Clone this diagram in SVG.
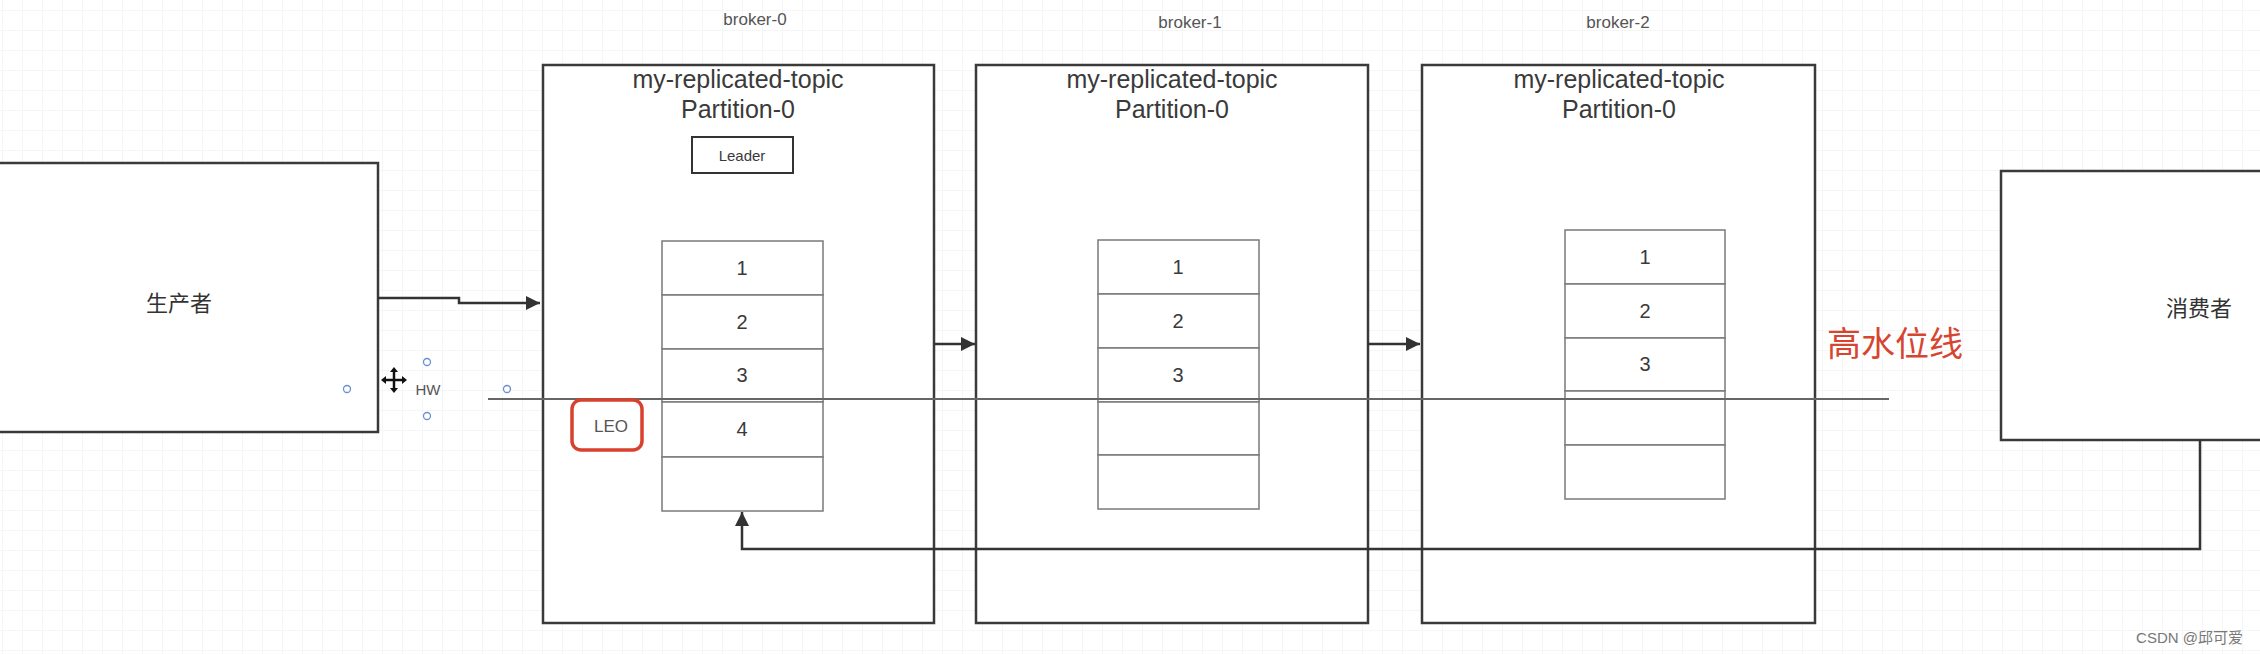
<svg xmlns="http://www.w3.org/2000/svg" width="2260" height="654" viewBox="0 0 2260 654">
<defs>
<pattern id="grid" width="20" height="20" patternUnits="userSpaceOnUse" x="2" y="10">
<path d="M20 0H0V20" fill="none" stroke="#ededed" stroke-width="1"/>
</pattern>
<marker id="arr" viewBox="0 0 10 10" refX="9" refY="5" markerWidth="7" markerHeight="7" markerUnits="userSpaceOnUse" orient="auto">
<path d="M0 0L10 5L0 10z" fill="#333"/>
</marker>
<marker id="arrb" viewBox="0 0 10 10" refX="10" refY="5" markerWidth="18" markerHeight="14" markerUnits="userSpaceOnUse" orient="auto">
<path d="M0 0L10 5L0 10z" fill="#333"/>
</marker>
</defs>
<style>
.box{fill:#fff;stroke:#3a3a3a;stroke-width:2.5}
.cell{fill:#fff;stroke:#7a7a7a;stroke-width:1.5}
.t{font-family:"Liberation Sans",Arial,sans-serif;fill:#3a3a3a;text-anchor:middle}
.cn{font-family:"Noto Sans CJK SC",sans-serif;fill:#333;text-anchor:middle}
.title{font-size:25px}
.num{font-size:20px}
.lbl{font-size:17px;fill:#555}
.con{fill:none;stroke:#333;stroke-width:2.5}
.h{fill:#fff;stroke:#6a8fd0;stroke-width:1.3}
</style>
<rect width="2260" height="654" fill="#fff"/>
<rect width="2260" height="654" fill="url(#grid)"/>

<g id="producer">
<rect class="box" x="-10" y="163" width="388" height="269"/>
<text class="cn" x="179" y="311" font-size="22">生产者</text>
</g>

<g id="broker-0">
<text class="t lbl" x="755" y="25">broker-0</text>
<rect class="box" x="543" y="65" width="391" height="558"/>
<text class="t title" x="738" y="88">my-replicated-topic</text>
<text class="t title" x="738" y="118">Partition-0</text>
<rect x="692" y="137" width="101" height="36" fill="#fff" stroke="#333" stroke-width="2"/>
<text class="t" x="742" y="161" font-size="15">Leader</text>
<rect class="cell" x="662" y="241" width="161" height="54"/>
<rect class="cell" x="662" y="295" width="161" height="54"/>
<rect class="cell" x="662" y="349" width="161" height="53"/>
<rect class="cell" x="662" y="402" width="161" height="55"/>
<rect class="cell" x="662" y="457" width="161" height="54"/>
<text class="t num" x="742" y="275">1</text>
<text class="t num" x="742" y="329">2</text>
<text class="t num" x="742" y="382">3</text>
<text class="t num" x="742" y="436">4</text>
</g>

<g id="broker-1">
<text class="t lbl" x="1190" y="28">broker-1</text>
<rect class="box" x="976" y="65" width="392" height="558"/>
<text class="t title" x="1172" y="88">my-replicated-topic</text>
<text class="t title" x="1172" y="118">Partition-0</text>
<rect class="cell" x="1098" y="240" width="161" height="54"/>
<rect class="cell" x="1098" y="294" width="161" height="54"/>
<rect class="cell" x="1098" y="348" width="161" height="54"/>
<rect class="cell" x="1098" y="402" width="161" height="53"/>
<rect class="cell" x="1098" y="455" width="161" height="54"/>
<text class="t num" x="1178" y="274">1</text>
<text class="t num" x="1178" y="328">2</text>
<text class="t num" x="1178" y="382">3</text>
</g>

<g id="broker-2">
<text class="t lbl" x="1618" y="28">broker-2</text>
<rect class="box" x="1422" y="65" width="393" height="558"/>
<text class="t title" x="1619" y="88">my-replicated-topic</text>
<text class="t title" x="1619" y="118">Partition-0</text>
<rect class="cell" x="1565" y="230" width="160" height="54"/>
<rect class="cell" x="1565" y="284" width="160" height="54"/>
<rect class="cell" x="1565" y="338" width="160" height="53"/>
<rect class="cell" x="1565" y="391" width="160" height="54"/>
<rect class="cell" x="1565" y="445" width="160" height="54"/>
<text class="t num" x="1645" y="264">1</text>
<text class="t num" x="1645" y="318">2</text>
<text class="t num" x="1645" y="371">3</text>
</g>

<g id="consumer">
<rect class="box" x="2001" y="171" width="300" height="269"/>
<text class="cn" x="2199" y="316" font-size="22">消费者</text>
</g>

<g id="high-watermark">
<line x1="488" y1="399" x2="1889" y2="399" stroke="#666" stroke-width="2.2"/>
<text class="cn" x="1895" y="356" font-size="34" fill="#d6452f" style="fill:#d6452f">高水位线</text>
<text class="t" x="428" y="395" font-size="15" fill="#555" style="fill:#555">HW</text>
<circle class="h" cx="347" cy="389" r="3.5"/>
<circle class="h" cx="427" cy="362" r="3.5"/>
<circle class="h" cx="427" cy="416" r="3.5"/>
<circle class="h" cx="507" cy="389" r="3.5"/>
<path d="M394 370V390M384 380H404" stroke="#111" stroke-width="2.5"/>
<path d="M394 367l-4 5h8zM394 393l-4 -5h8zM381 380l5 -4v8zM407 380l-5 -4v8z" fill="#111"/>
</g>

<g id="leo">
<rect x="572" y="400" width="70" height="50" rx="9" fill="#fff" stroke="#d8412c" stroke-width="3.5"/>
<text class="t" x="611" y="432" font-size="17" fill="#555" style="fill:#555">LEO</text>
</g>

<g id="connectors">
<path class="con" d="M378 298H459V303H540" marker-end="url(#arrb)"/>
<path class="con" d="M934 344H975" marker-end="url(#arrb)"/>
<path class="con" d="M1368 344H1420" marker-end="url(#arrb)"/>
<path class="con" d="M2200 440V549H742V512" marker-end="url(#arrb)"/>
</g>

<text x="2243" y="643" font-family="'Liberation Sans','Noto Sans CJK SC',sans-serif" font-size="15" fill="#777" text-anchor="end">CSDN @邱可爱</text>
</svg>
